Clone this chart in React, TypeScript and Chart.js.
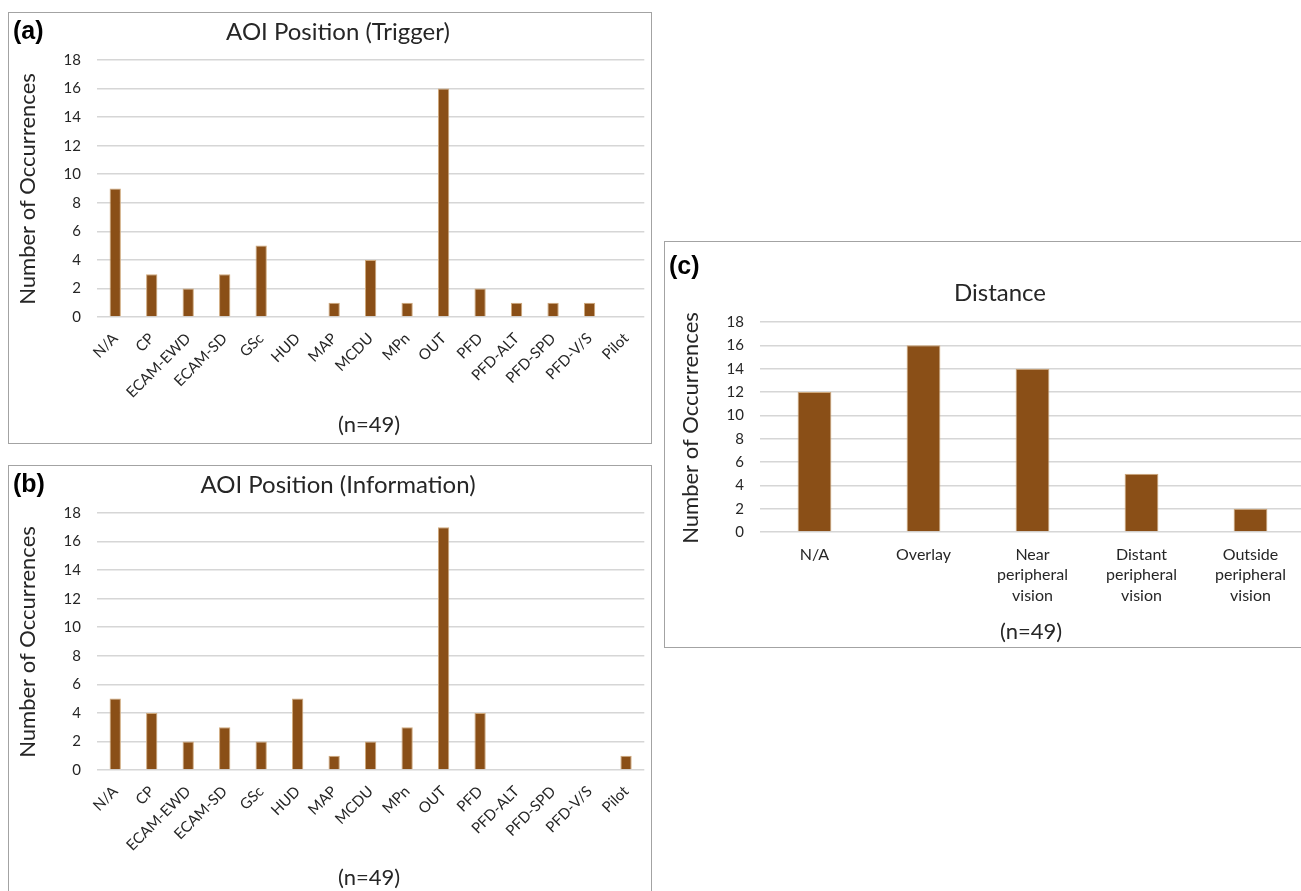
import React, { useEffect, useRef } from "react";
import { Chart, registerables } from "chart.js";

Chart.register(...registerables);

// ---------- data ----------
const aoiCategories = [
  "N/A", "CP", "ECAM-EWD", "ECAM-SD", "GSc", "HUD", "MAP", "MCDU",
  "MPn", "OUT", "PFD", "PFD-ALT", "PFD-SPD", "PFD-V/S", "Pilot",
];
const triggerCounts = [9, 3, 2, 3, 5, 0, 1, 4, 1, 16, 2, 1, 1, 1, 0];
const informationCounts = [5, 4, 2, 3, 2, 5, 1, 2, 3, 17, 4, 0, 0, 0, 1];

const distanceCategories = [
  ["N/A"],
  ["Overlay"],
  ["Near", "peripheral", "vision"],
  ["Distant", "peripheral", "vision"],
  ["Outside", "peripheral", "vision"],
];
const distanceCounts = [12, 16, 14, 5, 2];

const yMin = 0;
const yMax = 18;
const yStep = 2;

const panelTitles = ["AOI Position (Trigger)", "AOI Position (Information)", "Distance"];
const panelTags = ["(a)", "(b)", "(c)"];
const yAxisTitle = "Number of Occurrences";
const sampleNote = "(n=49)";

// ---------- styles ----------
const BAR_COLOR = "#8a4f17";
const BAR_EDGE = "#cfa97c";
const GRID_COLOR = "#d6d6d6";
const TEXT_COLOR = "#262626";
const FONT = "Lato";

type Pos = { x: number; y: number };
type PanelProps = {
  left: number;
  top: number;
  width: number;
  height: number;
  labels: (string | string[])[];
  values: number[];
  tag: string;
  title: string;
  plot: { left: number; right: number; top: number; bottom: number };
  tagPos: Pos;
  titlePos: Pos;
  yTitlePos: Pos;
  notePos: Pos;
  rotated: boolean;
  xTickPadding: number;
};

function Panel(p: PanelProps) {
  const ref = useRef<HTMLCanvasElement | null>(null);

  useEffect(() => {
    const canvas = ref.current;
    if (!canvas) return;

    const decor = {
      id: "panelDecor",
      beforeDraw(chart: any) {
        const { ctx, width, height } = chart;
        ctx.save();
        ctx.fillStyle = "#ffffff";
        ctx.fillRect(0, 0, width, height);
        ctx.restore();
      },
      afterDraw(chart: any) {
        const { ctx, width, height } = chart;
        ctx.save();
        ctx.strokeStyle = "#a3a3a3";
        ctx.lineWidth = 1;
        ctx.strokeRect(0.5, 0.5, width - 1, height - 1);

        ctx.fillStyle = "#000000";
        ctx.textBaseline = "middle";
        ctx.textAlign = "left";
        ctx.font = 'bold 25px "Liberation Sans"';
        ctx.fillText(p.tag, p.tagPos.x, p.tagPos.y);

        ctx.fillStyle = TEXT_COLOR;
        ctx.textAlign = "center";
        ctx.font = `24px ${FONT}`;
        ctx.fillText(p.title, p.titlePos.x, p.titlePos.y);

        ctx.font = `22px ${FONT}`;
        ctx.fillText(sampleNote, p.notePos.x, p.notePos.y);

        ctx.translate(p.yTitlePos.x, p.yTitlePos.y);
        ctx.rotate(-Math.PI / 2);
        ctx.font = `22px ${FONT}`;
        ctx.fillText(yAxisTitle, 0, 0);
        ctx.restore();
      },
    };

    const chart = new Chart(canvas, {
      type: "bar",
      data: {
        labels: p.labels as any,
        datasets: [
          {
            data: p.values,
            backgroundColor: BAR_COLOR,
            borderColor: BAR_EDGE,
            borderWidth: { top: 1, left: 1, right: 1, bottom: 0 } as any,
            categoryPercentage: 1,
            barPercentage: 0.31,
          },
        ],
      },
      options: {
        responsive: false,
        animation: false,
        devicePixelRatio: 1,
        layout: {
          padding: {
            top: p.plot.top,
            right: p.width - p.plot.right,
            left: 0,
            bottom: 0,
          },
        },
        plugins: {
          legend: { display: false },
          title: { display: false },
          tooltip: { enabled: false },
        },
        scales: {
          x: {
            grid: { display: false, drawTicks: false },
            border: { display: false },
            ticks: {
              autoSkip: false,
              minRotation: p.rotated ? 45 : 0,
              maxRotation: p.rotated ? 45 : 0,
              padding: p.xTickPadding,
              color: TEXT_COLOR,
              font: { family: FONT, size: p.rotated ? 15 : 16, lineHeight: 1.3 },
            },
            afterFit(scale: any) {
              scale.height = p.height - p.plot.bottom;
            },
          },
          y: {
            min: yMin,
            max: yMax,
            grid: { color: GRID_COLOR, lineWidth: 1.5, drawTicks: false },
            border: { display: false },
            ticks: {
              stepSize: yStep,
              padding: 16,
              color: TEXT_COLOR,
              font: { family: FONT, size: 15 },
            },
            afterFit(scale: any) {
              scale.width = p.plot.left;
            },
          },
        },
      },
      plugins: [decor],
    });

    return () => chart.destroy();
  }, []);

  return (
    <canvas
      ref={ref}
      width={p.width}
      height={p.height}
      style={{
        position: "absolute",
        left: p.left,
        top: p.top,
        width: p.width,
        height: p.height,
        display: "block",
      }}
    />
  );
}

export default function App() {
  const aoiLayout = {
    width: 644,
    height: 432,
    plot: { left: 89, right: 639, top: 48, bottom: 305 },
    tagPos: { x: 5, y: 20 },
    titlePos: { x: 330, y: 20 },
    yTitlePos: { x: 20, y: 177 },
    notePos: { x: 361, y: 413 },
    rotated: true,
    xTickPadding: 12,
  };
  return (
    <div
      style={{
        position: "fixed",
        left: 0,
        top: 0,
        width: 1301,
        height: 891,
        overflow: "hidden",
        background: "#ffffff",
      }}
    >
      <Panel
        {...aoiLayout}
        left={8}
        top={12}
        labels={aoiCategories}
        values={triggerCounts}
        tag={panelTags[0]}
        title={panelTitles[0]}
      />
      <Panel
        {...aoiLayout}
        left={8}
        top={465}
        labels={aoiCategories}
        values={informationCounts}
        tag={panelTags[1]}
        title={panelTitles[1]}
      />
      <Panel
        left={664}
        top={241}
        width={645}
        height={407}
        labels={distanceCategories}
        values={distanceCounts}
        tag={panelTags[2]}
        title={panelTitles[2]}
        plot={{ left: 96, right: 641, top: 81, bottom: 291 }}
        tagPos={{ x: 5, y: 26 }}
        titlePos={{ x: 336, y: 52 }}
        yTitlePos={{ x: 27, y: 187 }}
        notePos={{ x: 367, y: 391 }}
        rotated={false}
        xTickPadding={12}
      />
    </div>
  );
}
